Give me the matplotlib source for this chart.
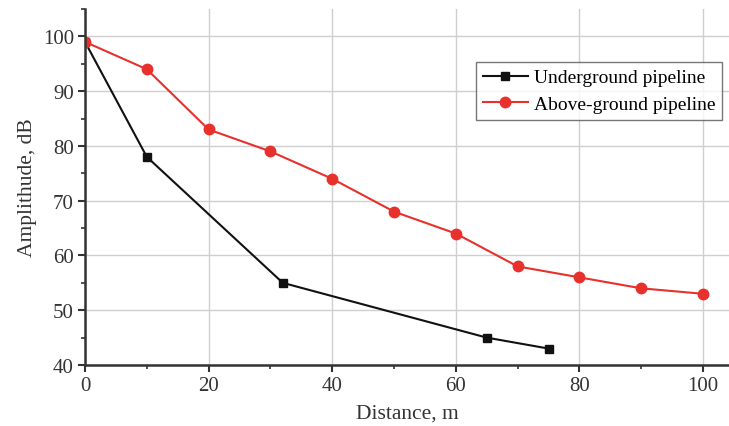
import matplotlib
matplotlib.use("Agg")
import matplotlib.pyplot as plt
from matplotlib.ticker import MultipleLocator

# data
under_x = [0, 10, 32, 65, 75]
under_y = [99, 78, 55, 45, 43]
above_x = [0, 10, 20, 30, 40, 50, 60, 70, 80, 90, 100]
above_y = [99, 94, 83, 79, 74, 68, 64, 58, 56, 54, 53]

plt.rcParams['font.family'] = ['Liberation Serif', 'DejaVu Serif']

fig = plt.figure(figsize=(7.29, 4.27), dpi=100)
ax = fig.add_axes([85 / 729, 1 - 366 / 427, 1 - 85 / 729, 356 / 427])

ax.plot(under_x, under_y, color='#111111', lw=1.5, marker='s', ms=6,
        label='Underground pipeline')
ax.plot(above_x, above_y, color='#e8302c', lw=1.5, marker='o', ms=7.5,
        mec='#e8302c', label='Above-ground pipeline')

ax.set_xlim(0, 104.2)
ax.set_ylim(40, 105)
ax.xaxis.set_major_locator(MultipleLocator(20))
ax.xaxis.set_minor_locator(MultipleLocator(10))
ax.yaxis.set_major_locator(MultipleLocator(10))
ax.yaxis.set_minor_locator(MultipleLocator(5))
ax.set_yticks([40, 50, 60, 70, 80, 90, 100])

for s in ['top', 'right']:
    ax.spines[s].set_visible(False)
for s in ['left', 'bottom']:
    ax.spines[s].set_linewidth(1.8)
    ax.spines[s].set_color('#333333')

ax.grid(True, which='major', color='#cfcfcf', lw=1.0)
ax.set_axisbelow(True)
ax.tick_params(which='major', direction='out', length=5, width=1.5,
               labelsize=15, colors='#333333', pad=3)
ax.tick_params(which='minor', direction='out', length=3, width=1.2,
               colors='#333333')

ax.set_xlabel('Distance, m', fontsize=15.5, color='#333333', labelpad=6)
ax.set_ylabel('Amplithude, dB', fontsize=15.5, color='#333333', labelpad=4)

leg = ax.legend(loc='upper right', bbox_to_anchor=(0.989, 0.851),
                fontsize=14, frameon=True, fancybox=False, edgecolor='#555555',
                handlelength=2.3, handletextpad=0.3, borderpad=0.35,
                labelspacing=0.45, borderaxespad=0.0)
leg.get_frame().set_linewidth(1.0)

fig.savefig('out.png', dpi=100)
